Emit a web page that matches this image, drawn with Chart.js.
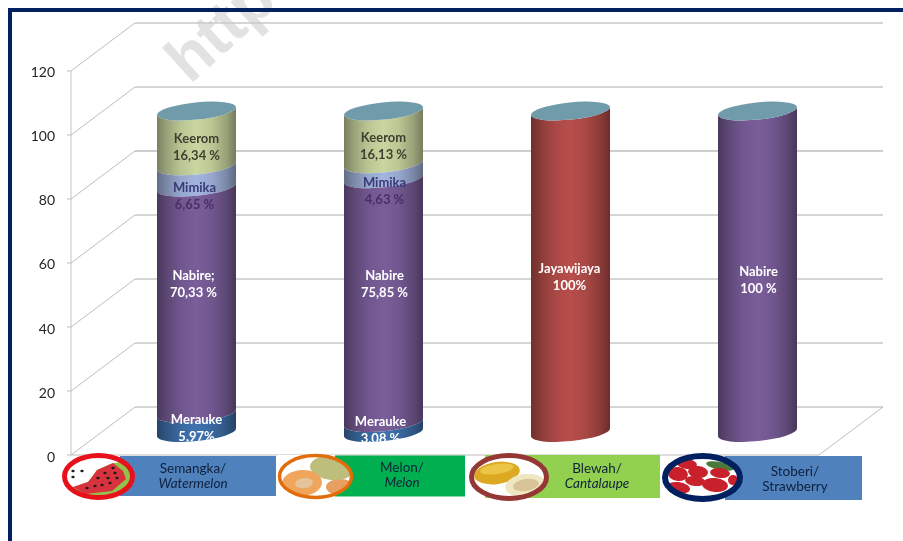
<!DOCTYPE html>
<html>
<head>
<meta charset="utf-8">
<style>
  html, body { margin: 0; padding: 0; background: #ffffff; }
  canvas { display: block; }
</style>
<script src="https://cdn.jsdelivr.net/npm/chart.js@4"></script>
</head>
<body>
<canvas id="chart" width="903" height="541"></canvas>
<script>
const categories = ["Semangka", "Melon", "Blewah", "Stoberi"];
const categoriesEn = ["Watermelon", "Melon", "Cantalaupe", "Strawberry"];

const merauke = [5.97, 3.08, 0, 0];
const nabire = [70.33, 75.85, 0, 100];
const jayawijaya = [0, 0, 100, 0];
const mimika = [6.65, 4.63, 0, 0];
const keerom = [17.05, 16.44, 0, 0];

const yTicksMax = 120;

const labelsMerauke = [["Merauke", "5,97%"], ["Merauke", "3,08 %"], null, null];
const labelsNabire = [["Nabire;", "70,33 %"], ["Nabire", "75,85 %"], null, ["Nabire", "100 %"]];
const labelsJayawijaya = [null, null, ["Jayawijaya", "100%"], null];
const labelsMimika = [["Mimika", "6,65 %"], ["Mimika", "4,63 %"], null, null];
const labelsKeerom = [["Keerom", "16,34 %"], ["Keerom", "16,13 %"], null, null];

const FONT = "Lato, Calibri, sans-serif";
const FRONT_X = 71;
const DEPTH_X = 64;
const DEPTH_Y = -48;
const TILT = 4;
const CAP_B = 8.6;

function shade(hex, f) {
  const n = parseInt(hex.slice(1), 16);
  const c = [n >> 16, (n >> 8) & 255, n & 255].map(v => Math.round(v * f));
  return `rgb(${c[0]},${c[1]},${c[2]})`;
}

function capRadius(el) {
  return Math.hypot(el.width / 2, TILT);
}
function capAngle(el) {
  return Math.atan2(-TILT, el.width / 2);
}

// the segment of a cylinder: both edges are the lower half of a tilted ellipse
function segmentPath(ctx, el) {
  ctx.beginPath();
  ctx.ellipse(el.x, el.y, capRadius(el), CAP_B, capAngle(el), Math.PI, 0, true);
  ctx.ellipse(el.x, el.base, capRadius(el), CAP_B, capAngle(el), 0, Math.PI, false);
  ctx.closePath();
}

Chart.BarElement.prototype.draw = function (ctx) {
  if (this.base - this.y < 0.5) return;
  const left = this.x - this.width / 2;
  const g = ctx.createLinearGradient(left, 0, left + this.width, 0);
  const c = this.options.backgroundColor;
  g.addColorStop(0, shade(c, 0.6));
  g.addColorStop(0.12, shade(c, 0.75));
  g.addColorStop(0.3, shade(c, 0.92));
  g.addColorStop(0.5, shade(c, 1));
  g.addColorStop(0.7, shade(c, 0.92));
  g.addColorStop(0.88, shade(c, 0.75));
  g.addColorStop(1, shade(c, 0.58));
  ctx.save();
  segmentPath(ctx, this);
  ctx.fillStyle = g;
  ctx.fill();
  ctx.restore();
};

const seriesList = [
  { data: merauke, backgroundColor: "#3F72AE", texts: labelsMerauke, color: "#ffffff",
    nudge: [[0, 5], [-3, 3], [0, 0], [0, 0]] },
  { data: nabire, backgroundColor: "#7A5E9A", texts: labelsNabire, color: "#ffffff",
    nudge: [[-3, -16], [1, -16], [0, 0], [1, 9]] },
  { data: jayawijaya, backgroundColor: "#B84E4B", texts: labelsJayawijaya, color: "#ffffff",
    nudge: [[0, 0], [0, 0], [-1, 6], [0, 0]] },
  { data: mimika, backgroundColor: "#A3B5DE", texts: labelsMimika, color: "#3A3A78", color2: "#4B2F63",
    nudge: [[-2, 20], [1, 20], [0, 0], [0, 0]] },
  { data: keerom, backgroundColor: "#CAD6A0", texts: labelsKeerom, color: "#3F4030",
    nudge: [[0, 9], [0, 9], [0, 0], [0, 0]] },
];

function drawFrame(ctx) {
  ctx.fillStyle = "#002060";
  ctx.fillRect(8, 8, 895, 4);
  ctx.fillRect(8, 8, 4, 533);
}

function drawWatermark(ctx) {
  ctx.save();
  ctx.translate(190, 85);
  ctx.rotate(-0.74);
  ctx.font = "bold 64px 'Liberation Sans', sans-serif";
  ctx.fillStyle = "#e2e2e2";
  ctx.fillText("https", 0, 0);
  ctx.restore();
}

function drawWalls(ctx, chart) {
  const y = chart.scales.y;
  const bottom = y.getPixelForValue(0);
  ctx.save();
  ctx.lineWidth = 1;
  ctx.strokeStyle = "#c4c4c4";
  ctx.beginPath();
  ctx.moveTo(FRONT_X, y.getPixelForValue(yTicksMax));
  ctx.lineTo(FRONT_X, bottom);
  ctx.stroke();
  y.ticks.forEach(t => {
    const py = y.getPixelForValue(t.value);
    ctx.strokeStyle = "#bdbdbd";
    ctx.lineWidth = 1;
    ctx.beginPath();
    ctx.moveTo(FRONT_X - 4, py);
    ctx.lineTo(FRONT_X, py);
    ctx.lineTo(FRONT_X + DEPTH_X, py + DEPTH_Y);
    ctx.stroke();
    ctx.strokeStyle = t.value === 80 ? "#9a9a9a" : "#c8c8c8";
    ctx.lineWidth = t.value === 80 ? 1 : 1.5;
    ctx.beginPath();
    ctx.moveTo(FRONT_X + DEPTH_X, py + DEPTH_Y);
    ctx.lineTo(chart.chartArea.right + 32, py + DEPTH_Y);
    ctx.stroke();
  });
  // floor edges
  ctx.strokeStyle = "#bdbdbd";
  ctx.lineWidth = 1;
  ctx.beginPath();
  ctx.moveTo(FRONT_X, bottom);
  ctx.lineTo(chart.chartArea.right - 32, bottom);
  ctx.lineTo(chart.chartArea.right + 32, bottom + DEPTH_Y);
  ctx.stroke();
  ctx.restore();
}

function drawCaps(ctx, chart) {
  categories.forEach((c, i) => {
    let top = null;
    chart.data.datasets.forEach((d, di) => {
      const el = chart.getDatasetMeta(di).data[i];
      if (el.base - el.y >= 0.5 && (!top || el.y < top.y)) top = el;
    });
    ctx.beginPath();
    ctx.ellipse(top.x, top.y, capRadius(top), CAP_B, capAngle(top), 0, Math.PI * 2);
    ctx.fillStyle = "#6F9BAA";
    ctx.fill();
  });
}

function drawLabels(ctx, chart) {
  ctx.save();
  ctx.font = "bold 13px " + FONT;
  ctx.textAlign = "center";
  ctx.textBaseline = "middle";
  seriesList.forEach((s, di) => {
    chart.getDatasetMeta(di).data.forEach((el, i) => {
      if (!s.texts[i]) return;
      const cx = el.x + s.nudge[i][0];
      const cy = (el.y + el.base) / 2 + s.nudge[i][1];
      ctx.fillStyle = s.color;
      ctx.fillText(s.texts[i][0], cx, cy - 8.5);
      ctx.save();
      if (di === 0) {
        // the lower Merauke line is cut by the foot of the cylinder
        segmentPath(ctx, el);
        ctx.clip();
      }
      ctx.fillStyle = s.color2 || s.color;
      ctx.fillText(s.texts[i][1], cx, cy + 8.5);
      ctx.restore();
    });
  });
  ctx.restore();
}

function ovalFill(ctx, cx, cy, rx, ry) {
  ctx.beginPath();
  ctx.ellipse(cx, cy, rx, ry, 0, 0, Math.PI * 2);
  ctx.fillStyle = "#ffffff";
  ctx.fill();
}

function ovalClip(ctx, cx, cy, rx, ry) {
  ctx.beginPath();
  ctx.ellipse(cx, cy, rx, ry, 0, 0, Math.PI * 2);
  ctx.clip();
}

function ring(ctx, cx, cy, rx, ry, color, lw) {
  ctx.beginPath();
  ctx.ellipse(cx, cy, rx, ry, 0, 0, Math.PI * 2);
  ctx.lineWidth = lw;
  ctx.strokeStyle = color;
  ctx.stroke();
}

function blob(ctx, cx, cy, rx, ry, rot, color) {
  ctx.beginPath();
  ctx.ellipse(cx, cy, rx, ry, rot, 0, Math.PI * 2);
  ctx.fillStyle = color;
  ctx.fill();
}

function poly(ctx, pts, color) {
  ctx.beginPath();
  pts.forEach((p, i) => (i ? ctx.lineTo(p[0], p[1]) : ctx.moveTo(p[0], p[1])));
  ctx.closePath();
  ctx.fillStyle = color;
  ctx.fill();
}

function drawWatermelon(ctx) {
  ovalFill(ctx, 98.5, 476.5, 34, 21);
  ctx.save();
  ovalClip(ctx, 98.5, 476.5, 34, 21);
  poly(ctx, [[73, 487], [88, 482], [97, 470], [113, 463], [124, 462], [134, 478], [116, 499], [80, 499]], "#93C24B");
  poly(ctx, [[73, 487], [88, 482], [92, 477], [97, 470], [113, 463], [123, 471], [126, 479], [112, 491], [85, 494]], "#D8323E");
  ctx.restore();
  ring(ctx, 98.5, 476.5, 34, 21, "#E8101A", 5);
  const seeds = [[73, 471], [82, 471], [73, 477], [113, 468], [105, 473], [115, 473], [98, 478], [108, 478], [117, 478], [87, 488], [95, 486], [102, 485], [110, 483]];
  seeds.forEach(p => blob(ctx, p[0], p[1], 1.7, 1.2, 0, "#1c1c1c"));
}

function drawMelon(ctx) {
  ctx.fillStyle = "#ffffff";
  ctx.fillRect(277, 455, 58, 42);
  ovalFill(ctx, 315.5, 476.5, 36, 21);
  ctx.save();
  ovalClip(ctx, 315.5, 476.5, 36, 21);
  blob(ctx, 340, 487, 14, 8, 0, "#E8A060");
  blob(ctx, 332, 468, 22, 12, 0.1, "#BDBE7C");
  blob(ctx, 302, 483, 20, 13, -0.05, "#EFA65C");
  blob(ctx, 304, 483, 9, 5, -0.1, "#E5C49A");
  ctx.restore();
  ring(ctx, 315.5, 476.5, 36, 21, "#E36C0A", 3.5);
}

function drawCantaloupe(ctx) {
  ovalFill(ctx, 509, 477, 37.5, 21.5);
  blob(ctx, 497, 473, 23, 11, -0.15, "#DDA922");
  blob(ctx, 497, 469, 17, 5, -0.15, "#EBC545");
  blob(ctx, 525, 485, 20, 11, -0.15, "#EFE6C2");
  blob(ctx, 526, 485, 13, 6, -0.15, "#D9C49A");
  ring(ctx, 509, 477, 37.5, 21.5, "#953735", 5);
}

function drawStrawberry(ctx) {
  ovalFill(ctx, 702.5, 477.5, 37.5, 21.5);
  ctx.save();
  ovalClip(ctx, 702.5, 477.5, 37.5, 21.5);
  blob(ctx, 720, 466, 14, 4, 0.2, "#4A7A3A");
  const berries = [[678, 474, 10, 7], [687, 464, 10, 5], [698, 472, 10, 6], [720, 473, 10, 5], [695, 481, 10, 5], [715, 485, 13, 7], [678, 488, 12, 6], [733, 480, 5, 5]];
  berries.forEach(b => blob(ctx, b[0], b[1], b[2], b[3], 0.1, "#C9212B"));
  ctx.restore();
  ring(ctx, 702.5, 477.5, 37.5, 21.5, "#002060", 6);
}

function drawBanners(ctx) {
  const rows = [
    { rect: [120, 456, 156, 40], fill: "#4F81BD", tx: 193, ty: 469, italic: true },
    { rect: [335, 455.5, 130, 41], fill: "#00B050", tx: 402, ty: 468, italic: true },
    { rect: [485, 455, 175, 43], fill: "#92D050", tx: 597, ty: 469, italic: true },
    { rect: [725, 456, 137, 44], fill: "#4F81BD", tx: 795, ty: 472, italic: false },
  ];
  rows.forEach(r => {
    ctx.fillStyle = r.fill;
    ctx.fillRect(r.rect[0], r.rect[1], r.rect[2], r.rect[3]);
  });
  drawWatermelon(ctx);
  drawMelon(ctx);
  drawCantaloupe(ctx);
  drawStrawberry(ctx);
  ctx.textAlign = "center";
  ctx.textBaseline = "middle";
  ctx.fillStyle = "#10203a";
  rows.forEach((r, i) => {
    ctx.font = "13.5px " + FONT;
    ctx.fillText(categories[i] + "/", r.tx, r.ty);
    ctx.font = (r.italic ? "italic " : "") + "13.5px " + FONT;
    ctx.fillText(categoriesEn[i], r.tx, r.ty + 15);
  });
}

const pictureParts = {
  id: "pictureParts",
  beforeDraw(chart) {
    const ctx = chart.ctx;
    drawWatermark(ctx);
    drawFrame(ctx);
  },
  beforeDatasetsDraw(chart) {
    drawWalls(chart.ctx, chart);
  },
  afterDatasetsDraw(chart) {
    const ctx = chart.ctx;
    ctx.save();
    drawCaps(ctx, chart);
    drawLabels(ctx, chart);
    drawBanners(ctx);
    ctx.restore();
  },
};

window.onload = function () {
  const ctx = document.getElementById("chart").getContext("2d");
  new Chart(ctx, {
    type: "bar",
    data: {
      labels: categories,
      datasets: seriesList.map((s, i) => ({
        label: ["Merauke", "Nabire", "Jayawijaya", "Mimika", "Keerom"][i],
        data: s.data,
        backgroundColor: s.backgroundColor,
        yAxisID: "yBars",
        barThickness: 79,
      })),
    },
    options: {
      responsive: false,
      animation: false,
      layout: { padding: { top: 22, right: 52, bottom: 86, left: 0 } },
      plugins: { legend: { display: false }, tooltip: { enabled: false } },
      scales: {
        x: { display: false, stacked: true },
        y: {
          position: "left",
          min: 0,
          max: 135.3,
          grid: { display: false, drawTicks: false },
          border: { display: false },
          ticks: { stepSize: 20, padding: 48, labelOffset: 2, color: "#262626", font: { family: FONT, size: 14 } },
          afterBuildTicks: axis => { axis.ticks = axis.ticks.filter(t => t.value <= yTicksMax); },
          afterFit: axis => {
            axis.width = 103;
            // ticks.padding pushes the labels out to the front edge; it must not shrink the plot
            axis.paddingTop = 0;
            axis.paddingBottom = 0;
          },
        },
        // the bars stand half way into the depth of the floor
        yBars: { display: false, stacked: true, min: -7, max: 127.7 },
      },
    },
    plugins: [pictureParts],
  });
};
</script>
</body>
</html>
